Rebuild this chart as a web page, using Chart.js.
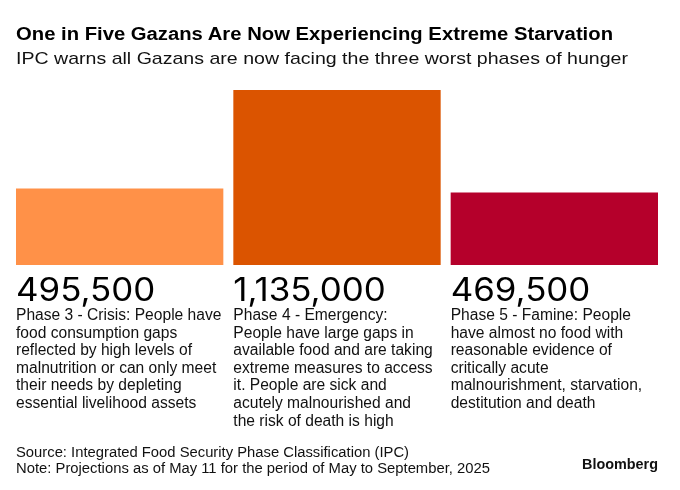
<!DOCTYPE html>
<html>
<head>
<meta charset="utf-8">
<script src="https://cdn.jsdelivr.net/npm/chart.js@4.4.1/dist/chart.umd.min.js"></script>
<style>
  html, body { margin: 0; padding: 0; background: #fff; }
  #wrap { position: relative; width: 680px; height: 490px; overflow: hidden; }
  #chart { position: absolute; left: 0; top: 0; }
  .txt { position: absolute; white-space: nowrap; color: #000; line-height: 1;
         font-family: "Liberation Sans", Arial, sans-serif; transform-origin: 0 0; }
  .title { left: 16px; top: 25px; font-size: 18px; font-weight: bold; }
  .sub { left: 16px; top: 49.5px; font-size: 17px; color: #111; }
  .src { left: 16px; top: 445px; font-size: 14px; color: #111; }
  .note { left: 16px; top: 461px; font-size: 14px; color: #111; }
  .logo { left: 582px; top: 456px; font-size: 15px; font-weight: bold; color: #111; }
</style>
</head>
<body>
<div id="wrap">
  <canvas id="chart" width="680" height="490"></canvas>
  <div class="txt title" data-w="597">One in Five Gazans Are Now Experiencing Extreme Starvation</div>
  <div class="txt sub" data-w="612">IPC warns all Gazans are now facing the three worst phases of hunger</div>
  <div class="txt src" data-w="393">Source: Integrated Food Security Phase Classification (IPC)</div>
  <div class="txt note" data-w="474">Note: Projections as of May 11 for the period of May to September, 2025</div>
  <div class="txt logo" data-w="76">Bloomberg</div>
</div>
<script>
// data
const phases = ['Phase 3 - Crisis', 'Phase 4 - Emergency', 'Phase 5 - Famine'];
const people = [495500, 1135000, 469500];
const descriptions = [
    ['Phase 3 - Crisis: People have', 'food consumption gaps', 'reflected by high levels of',
     'malnutrition or can only meet', 'their needs by depleting', 'essential livelihood assets'],
    ['Phase 4 - Emergency:', 'People have large gaps in', 'available food and are taking',
     'extreme measures to access', 'it. People are sick and', 'acutely malnourished and',
     'the risk of death is high'],
    ['Phase 5 - Famine: People', 'have almost no food with', 'reasonable evidence of',
     'critically acute', 'malnourishment, starvation,', 'destitution and death']
];
const barColors = ['#FF9148', '#DB5400', '#B5002B'];

// stretch header/footer text to the widths in the picture
document.querySelectorAll('.txt').forEach(el => {
    const w = el.getBoundingClientRect().width;
    el.style.transform = 'scaleX(' + (el.dataset.w / w) + ')';
});

// big number + description under each bar
const barLabels = {
    id: 'barLabels',
    afterDatasetsDraw(chart) {
        const ctx = chart.ctx;
        const meta = chart.getDatasetMeta(0);
        const base = chart.chartArea.bottom;
        meta.data.forEach((bar, i) => {
            const left = bar.x - bar.width / 2;
            ctx.save();
            ctx.fillStyle = '#000';
            ctx.textBaseline = 'alphabetic';
            ctx.font = '32px Inter, "Liberation Sans", sans-serif';
            ctx.save();
            ctx.translate(left, base + 35.5);
            ctx.scale(1.09, 1);
            ctx.fillText(people[i].toLocaleString('en-US'), 0, 0);
            ctx.restore();
            ctx.fillStyle = '#111';
            ctx.font = '15.6px "Liberation Sans", Arial, sans-serif';
            descriptions[i].forEach((line, j) => {
                ctx.fillText(line, left, base + 55 + j * 17.6);
            });
            ctx.restore();
        });
    }
};

new Chart(document.getElementById('chart'), {
    type: 'bar',
    data: {
        labels: phases,
        datasets: [{
            data: people,
            backgroundColor: barColors,
            borderWidth: 0,
            barPercentage: 1,
            categoryPercentage: 0.954
        }]
    },
    options: {
        responsive: false,
        animation: false,
        layout: { padding: { left: 11, right: 17, top: 90, bottom: 225 } },
        scales: {
            x: { display: false },
            y: { display: false, min: 0, max: 1135000 }
        },
        plugins: {
            legend: { display: false },
            tooltip: { enabled: false }
        }
    },
    plugins: [barLabels]
});
</script>
</body>
</html>
